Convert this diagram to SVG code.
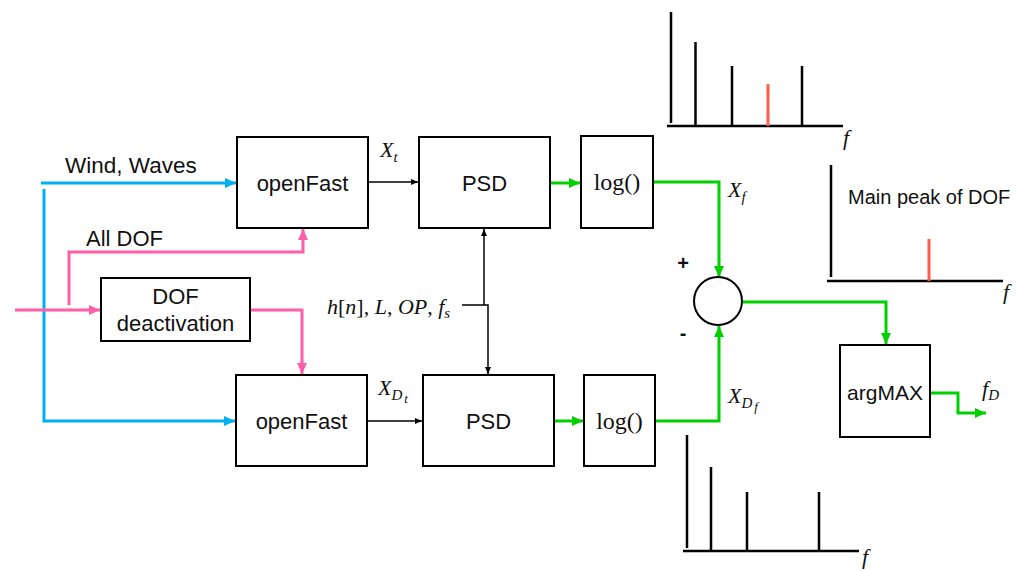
<svg xmlns="http://www.w3.org/2000/svg" width="1026" height="571" viewBox="0 0 1026 571">
<defs>
<style>
.box{fill:#fff;stroke:#000;stroke-width:2}
.lbl{font-family:"Liberation Sans",Arial,sans-serif;font-size:22px;fill:#111}
.math{font-family:"Liberation Serif","Times New Roman",serif;font-style:italic;font-size:22px;fill:#111}
.serif{font-family:"Liberation Serif","Times New Roman",serif;font-size:24px;fill:#111}
.blue{fill:none;stroke:#00B0F0;stroke-width:3}
.pink{fill:none;stroke:#FF5FA8;stroke-width:3}
.green{fill:none;stroke:#00D000;stroke-width:3}
.blk{fill:none;stroke:#000;stroke-width:1.5}
.ax{stroke:#000;stroke-width:2.5;fill:none}
.red{stroke:#FF5A4A;stroke-width:3;fill:none}
</style>
<marker id="aBlue" markerUnits="userSpaceOnUse" markerWidth="12" markerHeight="12" refX="11" refY="6" orient="auto"><path d="M0,1 L11,6 L0,11 z" fill="#00B0F0"/></marker>
<marker id="aPink" markerUnits="userSpaceOnUse" markerWidth="12" markerHeight="12" refX="11" refY="6" orient="auto"><path d="M0,1 L11,6 L0,11 z" fill="#FF5FA8"/></marker>
<marker id="aGreen" markerUnits="userSpaceOnUse" markerWidth="12" markerHeight="12" refX="11" refY="6" orient="auto"><path d="M0,1 L11,6 L0,11 z" fill="#00D000"/></marker>
<marker id="aBlk" markerUnits="userSpaceOnUse" markerWidth="8" markerHeight="8" refX="7" refY="4" orient="auto"><path d="M0,1 L7,4 L0,7 z" fill="#000"/></marker>
</defs>
<rect width="1026" height="571" fill="#fff"/>

<g id="connectors">
<path class="blue" d="M41,183 H236" marker-end="url(#aBlue)"/>
<path class="blue" d="M44,189 V421 H235" marker-end="url(#aBlue)"/>
<path class="pink" d="M15,310 H100" marker-end="url(#aPink)"/>
<path class="pink" d="M69,305 V252 H303 V229" marker-end="url(#aPink)"/>
<path class="pink" d="M250,310 H302 V374" marker-end="url(#aPink)"/>
<path class="blk" d="M368,182 H418" marker-end="url(#aBlk)"/>
<path class="blk" d="M367,421 H422" marker-end="url(#aBlk)"/>
<path class="blk" d="M484,305 V229" marker-end="url(#aBlk)"/>
<path class="blk" d="M462,305 H488 V374" marker-end="url(#aBlk)"/>
<path class="green" d="M550,183 H580" marker-end="url(#aGreen)"/>
<path class="green" d="M554,421 H583" marker-end="url(#aGreen)"/>
<path class="green" d="M653,182 H719 V277" marker-end="url(#aGreen)"/>
<path class="green" d="M655,421 H719 V326" marker-end="url(#aGreen)"/>
<path class="green" d="M743,302 H886 V344" marker-end="url(#aGreen)"/>
<path class="green" d="M930,393 H958 V413 H986" marker-end="url(#aGreen)"/>
</g>

<g id="openfast-top"><rect class="box" x="237" y="137" width="131" height="91"/><text class="lbl" x="302.5" y="191" text-anchor="middle">openFast</text></g>
<g id="openfast-bottom"><rect class="box" x="236" y="375" width="131" height="91"/><text class="lbl" x="301.5" y="429" text-anchor="middle">openFast</text></g>
<g id="dof-deactivation"><rect class="box" x="101" y="278" width="149" height="63"/><text class="lbl" x="175.5" y="304" text-anchor="middle">DOF</text><text class="lbl" x="175.5" y="331" text-anchor="middle">deactivation</text></g>
<g id="psd-top"><rect class="box" x="419" y="137" width="131" height="91"/><text class="lbl" x="484.5" y="191" text-anchor="middle">PSD</text></g>
<g id="psd-bottom"><rect class="box" x="423" y="375" width="131" height="91"/><text class="lbl" x="488.5" y="429" text-anchor="middle">PSD</text></g>
<g id="log-top"><rect class="box" x="581" y="136" width="72" height="92"/><text class="serif" x="617" y="190" text-anchor="middle">log()</text></g>
<g id="log-bottom"><rect class="box" x="584" y="375" width="71" height="91"/><text class="serif" x="619.5" y="429" text-anchor="middle">log()</text></g>
<g id="sum"><circle cx="718" cy="301" r="24" fill="#fff" stroke="#000" stroke-width="2"/><text class="lbl" x="683" y="270" text-anchor="middle" style="font-size:20px;font-weight:bold">+</text><text class="lbl" x="683" y="340" text-anchor="middle" style="font-size:20px;font-weight:bold">-</text></g>
<g id="argmax"><rect class="box" x="840" y="345" width="90" height="92"/><text class="lbl" x="885" y="400" text-anchor="middle" style="font-size:21px">argMAX</text></g>

<g id="labels">
<text class="lbl" x="65" y="173" style="font-size:22.5px">Wind, Waves</text>
<text class="lbl" x="86" y="246">All DOF</text>
<text class="math" x="380" y="157">X<tspan font-size="15" dy="5">t</tspan></text>
<text class="math" x="378" y="395">X<tspan font-size="15" dy="5">D</tspan><tspan font-size="13" dy="3" dx="2">t</tspan></text>
<text class="math" x="728" y="197">X<tspan font-size="15" dy="5">f</tspan></text>
<text class="math" x="728" y="403">X<tspan font-size="15" dy="5">D</tspan><tspan font-size="13" dy="3" dx="2">f</tspan></text>
<text class="math" x="982" y="396">f<tspan font-size="15" dy="4">D</tspan></text>
<text class="math" x="327" y="314">h<tspan font-style="normal">[</tspan>n<tspan font-style="normal">], </tspan>L<tspan font-style="normal">, </tspan>OP<tspan font-style="normal">, </tspan>f<tspan font-size="15" dy="4">s</tspan></text>
<text class="lbl" x="848" y="204" style="font-size:20px">Main peak of DOF</text>
</g>

<g id="spectrum-top">
<path class="ax" d="M671,12 V123 M667,126 H843"/>
<path class="ax" d="M695.5,42 V126 M732,66 V126 M802,66 V126"/>
<path class="red" d="M768,84 V126"/>
<text class="math" x="843" y="145">f</text>
</g>
<g id="spectrum-mid">
<path class="ax" d="M831,165 V277 M827,281 H1003"/>
<path class="red" d="M929,239 V281"/>
<text class="math" x="1003" y="299">f</text>
</g>
<g id="spectrum-bottom">
<path class="ax" d="M687,435 V548 M683,551 H859"/>
<path class="ax" d="M711,467 V551 M747,492 V551 M819,492 V551"/>
<text class="math" x="862" y="564">f</text>
</g>
</svg>
